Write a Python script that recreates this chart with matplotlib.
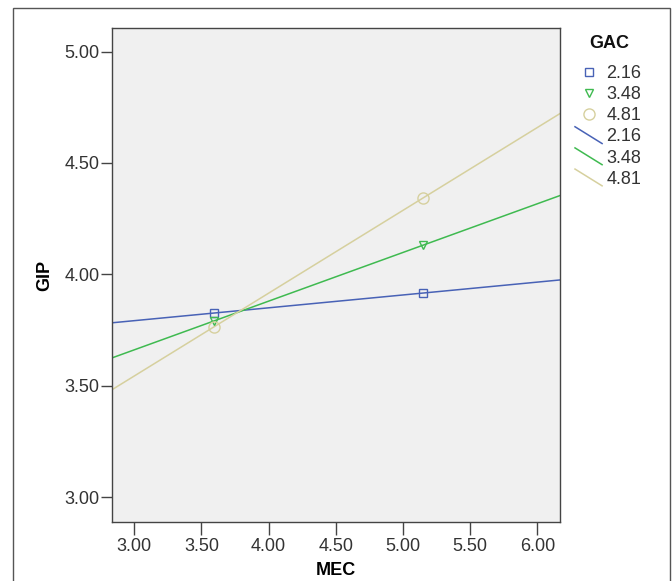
import matplotlib
matplotlib.use("Agg")
import matplotlib.pyplot as plt
from matplotlib.lines import Line2D
from matplotlib.legend_handler import HandlerBase
from matplotlib.patches import Rectangle

# ---- data ----
gac_levels = ["2.16", "3.48", "4.81"]
mec_points = [3.59, 5.15]
gip_216 = [3.826, 3.916]
gip_348 = [3.790, 4.131]
gip_481 = [3.763, 4.343]
x_ticks = [3.00, 3.50, 4.00, 4.50, 5.00, 5.50, 6.00]
y_ticks = [3.00, 3.50, 4.00, 4.50, 5.00]
x_limits = [2.834, 6.169]
y_limits = [2.888, 5.106]

colors = ["#4862B6", "#3FBA50", "#D6D09E"]
markers = ["s", "v", "o"]
msizes = [6, 6, 8]
series = [gip_216, gip_348, gip_481]

plt.rcParams["font.family"] = ["Liberation Sans", "DejaVu Sans"]

fig = plt.figure(figsize=(6.72, 5.81), dpi=100)
fig.patch.set_facecolor("white")
ax = fig.add_axes([112 / 672, 1 - 522 / 581, 448 / 672, 494 / 581])
ax.set_facecolor("#F0F0F0")

# outer frame
fig.patches.append(Rectangle((13 / 672, -0.05), 657 / 672, 1 - 8 / 581 + 0.05,
                             transform=fig.transFigure, fill=False,
                             edgecolor="#555555", linewidth=1.0))

marker_handles = []
line_handles = []
for lvl, ys, c, m, ms in zip(gac_levels, series, colors, markers, msizes):
    h = ax.plot(mec_points, ys, linestyle="none", marker=m, markersize=ms,
                markerfacecolor="none", markeredgecolor=c, markeredgewidth=1.0,
                zorder=3)[0]
    marker_handles.append(h)
    ln = ax.axline((mec_points[0], ys[0]), (mec_points[1], ys[1]),
                   color=c, linewidth=1.1, zorder=2)
    line_handles.append(ln)

ax.set_xlim(x_limits)
ax.set_ylim(y_limits)
ax.set_xticks(x_ticks)
ax.set_yticks(y_ticks)
ax.set_xticklabels([f"{v:.2f}" for v in x_ticks])
ax.set_yticklabels([f"{v:.2f}" for v in y_ticks])
ax.tick_params(axis="both", direction="out", width=1.0,
               color="#444444", labelsize=13, labelcolor="#333333")
ax.tick_params(axis="x", length=9, pad=2.5)
ax.tick_params(axis="y", length=8, pad=1)
for s in ax.spines.values():
    s.set_color("#444444")
    s.set_linewidth(1.0)

ax.set_xlabel("MEC", fontsize=13, fontweight="bold", labelpad=5)
ax.set_ylabel("GIP", fontsize=13, fontweight="bold", labelpad=8)


class DiagHandler(HandlerBase):
    def create_artists(self, legend, orig_handle, xdescent, ydescent,
                       width, height, fontsize, trans):
        l = Line2D([-xdescent, -xdescent + width],
                   [height - ydescent + 1.5, -ydescent - 1.5],
                   color=orig_handle.get_color(), linewidth=1.1)
        l.set_transform(trans)
        return [l]


fig.text(609 / 672, 1 - 43 / 581, "GAC", fontsize=13, fontweight="bold",
         ha="center", va="center", color="#111111")

handles = marker_handles + line_handles
labels = gac_levels + gac_levels
handler_map = {h: DiagHandler() for h in line_handles}
leg = fig.legend(handles, labels, loc="upper left",
                 bbox_to_anchor=(575 / 672, 1 - 65 / 581),
                 frameon=False, fontsize=13,
                 handlelength=1.5, handletextpad=0.25, labelspacing=0.23,
                 borderpad=0, borderaxespad=0, handler_map=handler_map)
for t in leg.get_texts():
    t.set_color("#333333")

fig.savefig("out.png", dpi=100)
